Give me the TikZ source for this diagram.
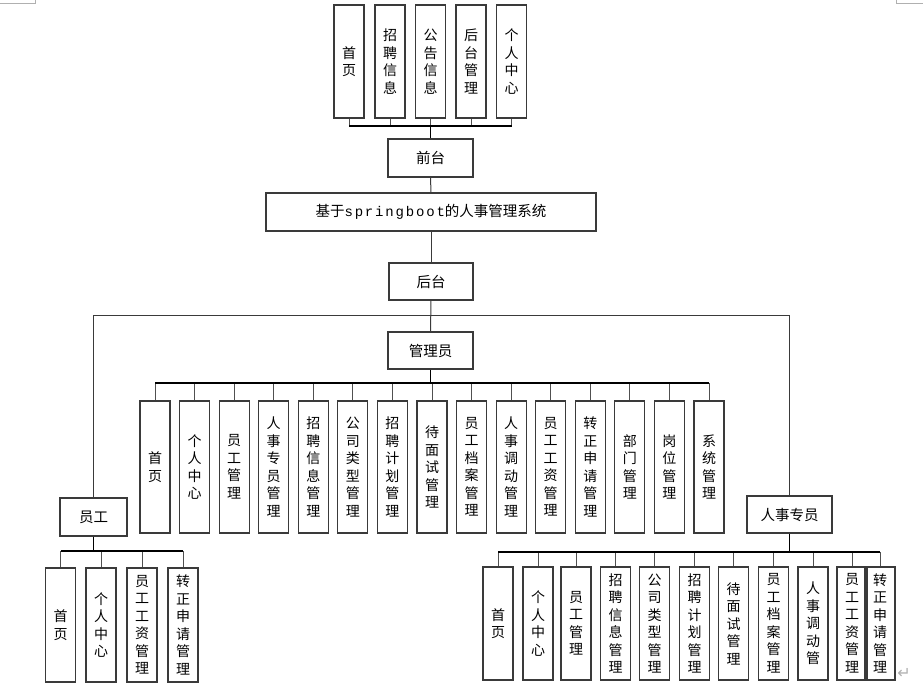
\documentclass[tikz,border=0pt]{standalone}
\usepackage{fontspec}
\newfontfamily\cjk{Noto Sans CJK SC}
\newfontfamily\mymono[LetterSpace=13]{Liberation Mono}
\newfontfamily\symfont{DejaVu Sans}
\definecolor{boxc}{HTML}{3A3A3A}
\definecolor{stubc}{HTML}{505050}
\definecolor{markc}{HTML}{B0B0B0}
\newcommand\vfont{\cjk\fontsize{14}{17.5}\selectfont}
\newcommand\hfont{\cjk\fontsize{14.5}{17}\selectfont}
\tikzset{
  vbox/.style={draw=boxc, line width=1.1pt, minimum width=30pt, inner sep=0pt, align=center, font=\vfont},
  hbox/.style={draw=boxc, line width=1.1pt, inner sep=0pt, font=\hfont},
  stub/.style={draw=stubc, line width=1pt},
  conn/.style={draw=boxc, line width=1pt},
  bus/.style={draw=black, line width=1.6pt},
}
\begin{document}
\begin{tikzpicture}[x=1pt,y=-1pt]
\useasboundingbox (0,0) rectangle (923,686);
% corner marks
\draw[markc, line width=0.8pt] (0,3.3) -- (35.7,3.3) -- (35.7,0);
\draw[markc, line width=0.8pt] (896,0) -- (896,3.3) -- (923,3.3);

% central column
\node[hbox, minimum width=85pt, minimum height=38pt] (qt) at (430.5,158) {前台};
\node[hbox, minimum width=330pt, minimum height=38pt] (sys) at (431,212)
  {基于{\mymono\fontsize{14}{17}\selectfont springboot}的人事管理系统};
\node[hbox, minimum width=84pt, minimum height=37pt] (ht) at (431,281.5) {后台};
\node[hbox, minimum width=85pt, minimum height=37pt] (gly) at (430.5,350.5) {管理员};
\node[hbox, minimum width=67pt, minimum height=38pt] (yg) at (93.5,517) {员工};
\node[hbox, minimum width=85pt, minimum height=37pt] (rs) at (789.5,514.5) {人事专员};

% top row
\foreach \x/\t [count=\i] in {349/{首\\页}, 390/{招\\聘\\信\\息}, 430.5/{公\\告\\信\\息}, 471/{后\\台\\管\\理}, 511.5/{个\\人\\中\\心}}
  \node[vbox, minimum height=113pt] (t\i) at (\x,61.5) {\t};
\coordinate (tb) at (430.5,126);
\foreach \i in {1,...,5} \draw[stub] (t\i.south) -- (t\i.south |- tb);
\draw[bus] (t1.south |- tb) -- (t5.south |- tb);
\draw[bus] (tb) -- (qt.north);

\draw[conn] (qt.south) -- (sys.north);
\draw[conn] (sys.south) -- (ht.north);
\draw[conn] (ht.south) -- (gly.north);
\coordinate (hb) at (431,315);
\draw[conn] (yg.north) -- (yg.north |- hb) -- (rs.north |- hb) -- (rs.north);

% admin row
\foreach \x/\t [count=\i] in {155/{首\\页}, 194.6/{个\\人\\中\\心}, 234.1/{员\\工\\管\\理}, 273.7/{人\\事\\专\\员\\管\\理},
  313.3/{招\\聘\\信\\息\\管\\理}, 352.9/{公\\司\\类\\型\\管\\理}, 392.4/{招\\聘\\计\\划\\管\\理}, 432/{待\\面\\试\\管\\理},
  471.6/{员\\工\\档\\案\\管\\理}, 511.1/{人\\事\\调\\动\\管\\理}, 550.7/{员\\工\\工\\资\\管\\理}, 590.3/{转\\正\\申\\请\\管\\理},
  629.9/{部\\门\\管\\理}, 669.4/{岗\\位\\管\\理}, 709/{系\\统\\管\\理}}
  \node[vbox, minimum height=132pt] (m\i) at (\x,467) {\t};
\coordinate (mb) at (430.5,383);
\foreach \i in {1,...,15} \draw[stub] (m\i.north) -- (m\i.north |- mb);
\draw[bus] (m1.north |- mb) -- (m15.north |- mb);
\draw[bus] (gly.south) -- (gly.south |- mb);

% employee row
\foreach \x/\t [count=\i] in {60.5/{首\\页}, 101/{个\\人\\中\\心}, 142/{员\\工\\工\\资\\管\\理}, 183/{转\\正\\申\\请\\管\\理}}
  \node[vbox, minimum height=114pt] (e\i) at (\x,625) {\t};
\coordinate (eb) at (93.5,551);
\foreach \i in {1,...,4} \draw[stub] (e\i.north) -- (e\i.north |- eb);
\draw[bus] (e1.north |- eb) -- (e4.north |- eb);
\draw[bus] (yg.south) -- (yg.south |- eb);

% HR row
\foreach \x/\t [count=\i] in {498/{首\\页}, 538/{个\\人\\中\\心}, 576/{员\\工\\管\\理}, 615.5/{招\\聘\\信\\息\\管\\理},
  654.5/{公\\司\\类\\型\\管\\理}, 694.5/{招\\聘\\计\\划\\管\\理}, 733.5/{待\\面\\试\\管\\理}, 773.5/{员\\工\\档\\案\\管\\理},
  813/{人\\事\\调\\动\\管}, 852/{员\\工\\工\\资\\管\\理}, 880/{转\\正\\申\\请\\管\\理}}
  \node[vbox, minimum height=113pt] (r\i) at (\x,623.5) {\t};
\coordinate (rb) at (789.5,552);
\foreach \i in {1,...,11} \draw[stub] (r\i.north) -- (r\i.north |- rb);
\draw[bus] (r1.north |- rb) -- (r11.north |- rb);
\draw[bus] (rs.south) -- (rs.south |- rb);

% paragraph mark
\node[text=markc, font=\symfont\fontsize{16}{16}\selectfont, inner sep=0pt] (pm) at (904,673) {↵};
\end{tikzpicture}
\end{document}
